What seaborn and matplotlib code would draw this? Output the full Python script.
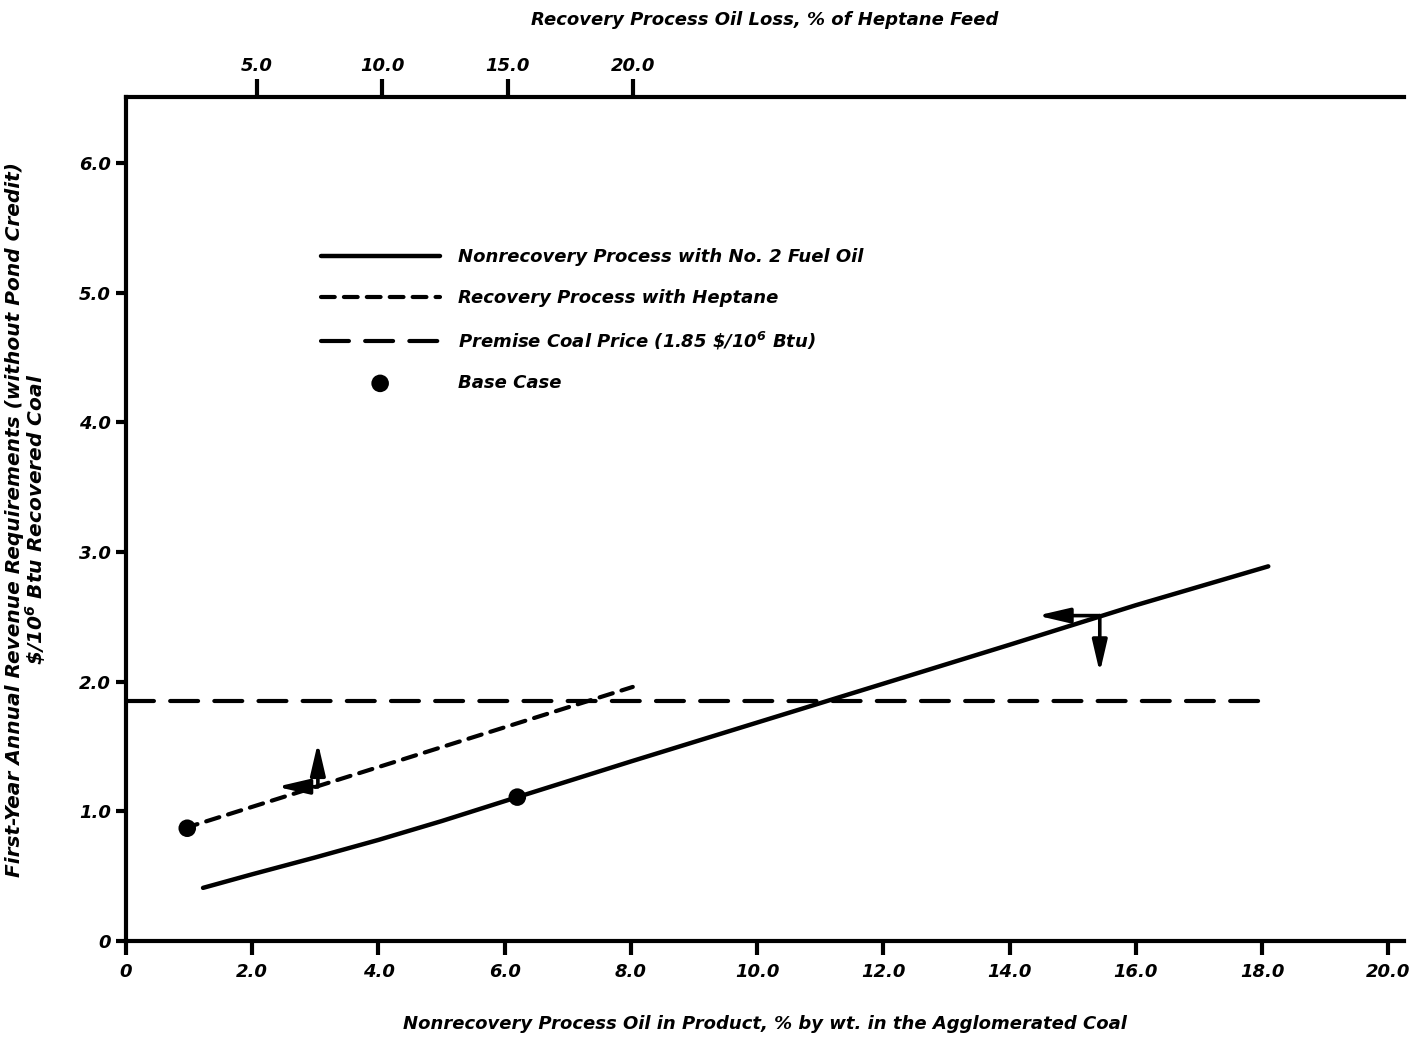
import numpy as np
import pandas as pd
import seaborn as sns
import matplotlib.pyplot as plt

# nonrecovery process (No. 2 fuel oil), bottom axis
oil_pct = [1.22, 2.0, 3.0, 4.0, 5.0, 6.2, 8.0, 10.0, 12.0, 14.0, 16.0, 18.1]
oil_cost = [0.41, 0.515, 0.645, 0.78, 0.925, 1.11, 1.385, 1.685, 1.985, 2.285, 2.59, 2.89]

# recovery process (heptane), top axis
heptane_loss = [2.1, 20.0]
heptane_cost = [0.87, 1.96]

# premise coal price
coal_x = [0.0, 18.1]
coal_price = [1.85, 1.85]

# base case points (bottom-axis units)
base_x = [0.97, 6.2]
base_y = [0.87, 1.11]

# axis reading arrows: corner, left tip, vertical tip
arrow_x = [3.04, 15.43]
arrow_y = [1.19, 2.51]
arrow_left_x = [2.39, 14.44]
arrow_vert_y = [1.53, 2.07]

x_ticks = [0, 2, 4, 6, 8, 10, 12, 14, 16, 18, 20]
x_labels = ["0", "2.0", "4.0", "6.0", "8.0", "10.0", "12.0", "14.0", "16.0", "18.0", "20.0"]
y_ticks = [0, 1, 2, 3, 4, 5, 6]
y_labels = ["0", "1.0", "2.0", "3.0", "4.0", "5.0", "6.0"]
top_ticks = [5, 10, 15, 20]
top_labels = ["5.0", "10.0", "15.0", "20.0"]


def to_top(x):
    return (np.asarray(x) - 0.09) / 0.397


def to_bottom(t):
    return np.asarray(t) * 0.397 + 0.09


sns.set_style("ticks")
plt.rcParams["font.family"] = ["DejaVu Sans"]
plt.rcParams["mathtext.default"] = "regular"
for key in ["text.color", "axes.labelcolor", "xtick.color", "ytick.color", "axes.edgecolor"]:
    plt.rcParams[key] = "black"

font = dict(fontsize=13, fontweight="bold", fontstyle="italic")

fig = plt.figure(figsize=(14.13, 10.42), dpi=100)
ax = fig.add_axes([0.0892, 0.0969, 0.9044, 0.81])

sns.lineplot(x=oil_pct, y=oil_cost, ax=ax, color="black", lw=3.2,
             label="Nonrecovery Process with No. 2 Fuel Oil")
hept_x = to_bottom(heptane_loss)
sns.lineplot(x=hept_x, y=heptane_cost, ax=ax, color="black", lw=3.0,
             label="Recovery Process with Heptane")
ax.lines[-1].set_dashes([3.3, 2.2])
ax.lines[-1].set_dash_capstyle("round")
sns.lineplot(x=coal_x, y=coal_price, ax=ax, color="black", lw=3.0,
             label="Premise Coal Price (1.85 \\$/10$^6$ Btu)")
ax.lines[-1].set_dashes([6.7, 3.9])
ax.lines[-1].set_dash_capstyle("round")
sns.scatterplot(x=base_x, y=base_y, ax=ax, color="black", s=160,
                edgecolor="none", label="Base Case", zorder=5)

arrow_style = dict(arrowstyle="-|>,head_length=1.2,head_width=0.28",
                   color="black", lw=2.6, mutation_scale=16,
                   shrinkA=0, shrinkB=0)
for cx, cy, lx, vy in zip(arrow_x, arrow_y, arrow_left_x, arrow_vert_y):
    ax.annotate("", xy=(lx, cy), xytext=(cx, cy), arrowprops=arrow_style)
    ax.annotate("", xy=(cx, vy), xytext=(cx, cy), arrowprops=arrow_style)

ax.set_xlim(0, 20.25)
ax.set_ylim(0, 6.51)
ax.set_xticks(x_ticks)
ax.set_xticklabels(x_labels, **font)
ax.set_yticks(y_ticks)
ax.set_yticklabels(y_labels, **font)
ax.tick_params(axis="x", direction="out", length=10, width=3, pad=6)
ax.tick_params(axis="y", direction="out", length=7, width=3, pad=4)

for side in ["left", "bottom"]:
    ax.spines[side].set_linewidth(3)
ax.spines["right"].set_visible(False)
ax.spines["top"].set_visible(False)

ax.set_xlabel("Nonrecovery Process Oil in Product, % by wt. in the Agglomerated Coal",
              labelpad=24, **font)
ax.set_ylabel("First-Year Annual Revenue Requirements (without Pond Credit)\n"
              "\\$/10$^6$ Btu Recovered Coal", linespacing=0.95,
              fontsize=14.5, fontweight="bold", fontstyle="italic")
ax.yaxis.set_label_coords(-0.061, 0.5)

top = ax.secondary_xaxis("top", functions=(to_top, to_bottom))
top.set_xticks(top_ticks)
top.set_xticklabels(top_labels, **font)
top.tick_params(direction="out", length=13, width=3, pad=3)
top.spines["top"].set_linewidth(3)
top.set_xlabel("Recovery Process Oil Loss, % of Heptane Feed", labelpad=23, **font)

handles, labels = ax.get_legend_handles_labels()
leg = ax.legend(handles, labels, loc="upper left", bbox_to_anchor=(0.1395, 0.84),
                frameon=False, handlelength=6.6, handletextpad=1.0,
                labelspacing=1.25, prop=dict(size=13, weight="bold", style="italic"))

fig.savefig("out.png", dpi=100)
